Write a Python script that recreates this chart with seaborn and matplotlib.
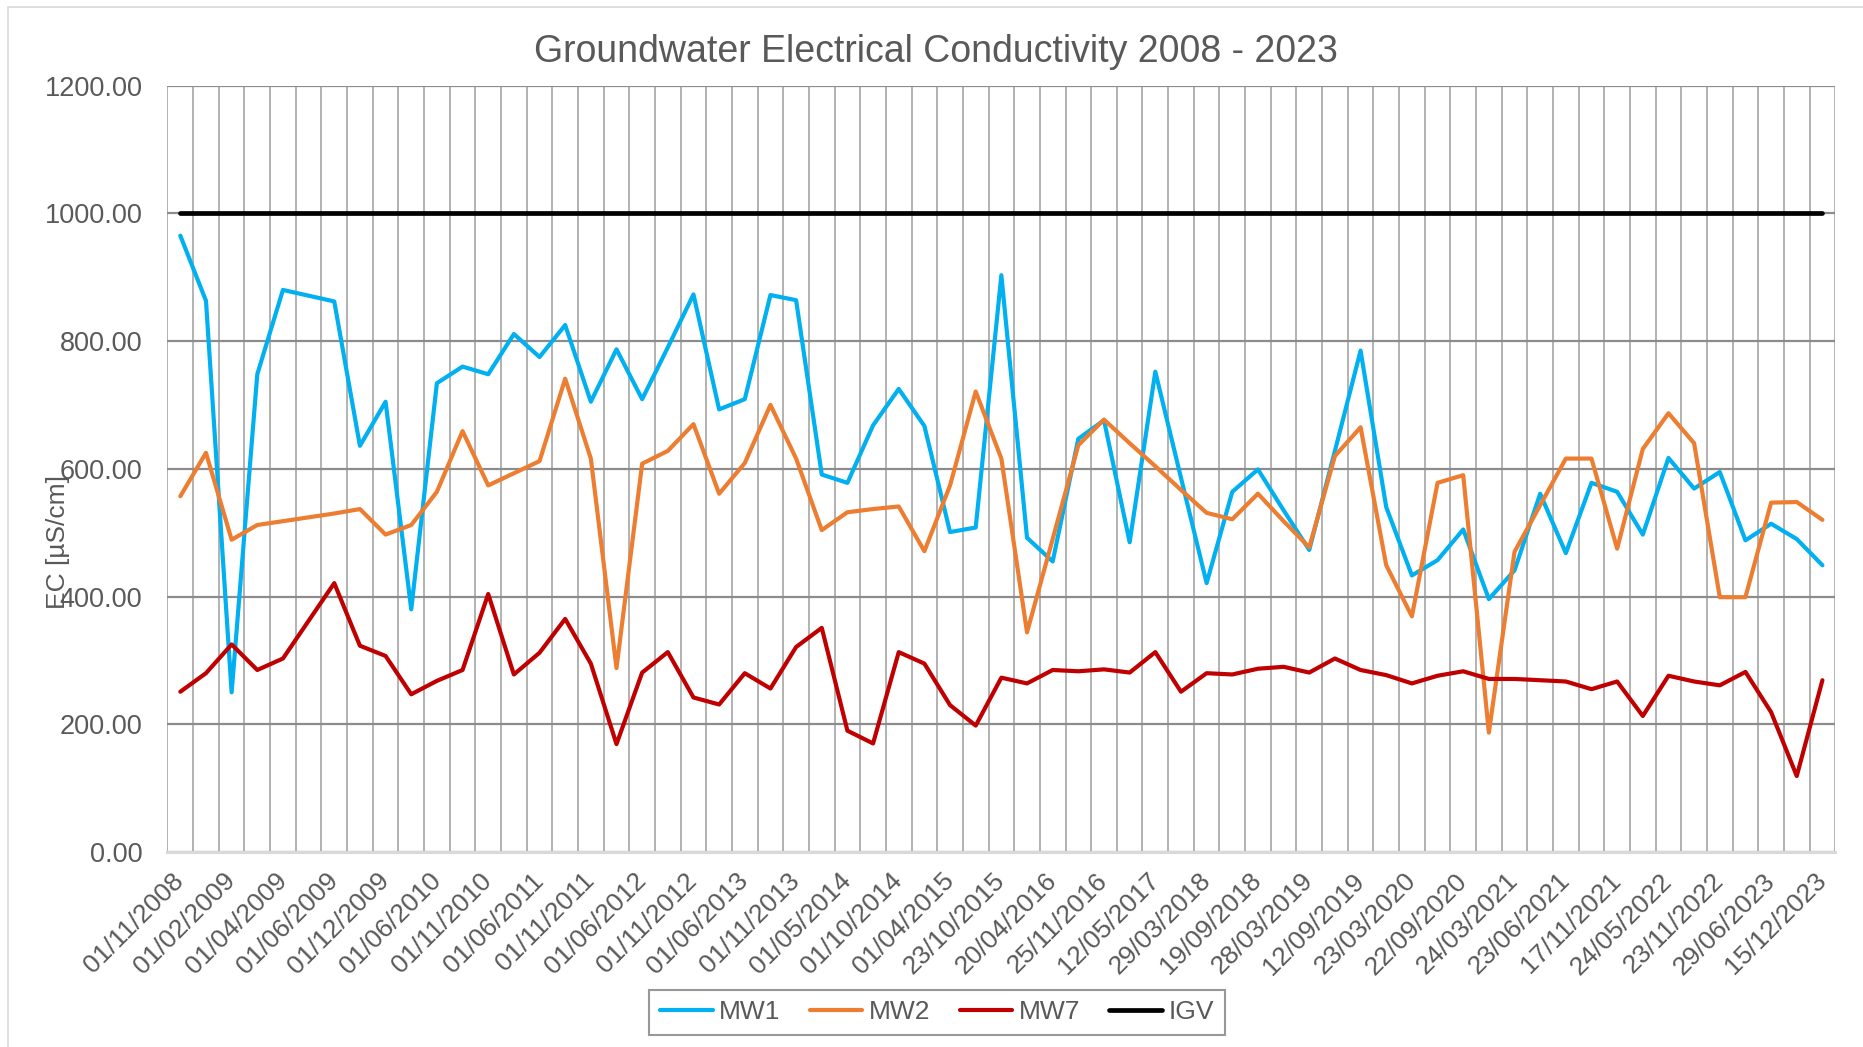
import numpy as np
import pandas as pd
import matplotlib
matplotlib.use("Agg")
import matplotlib.pyplot as plt
import seaborn as sns
from matplotlib.patches import Rectangle
from matplotlib.ticker import FixedLocator, FormatStrFormatter

# ---------------- data ----------------
tick_labels = ["01/11/2008", "01/02/2009", "01/04/2009", "01/06/2009", "01/12/2009",
               "01/06/2010", "01/11/2010", "01/06/2011", "01/11/2011", "01/06/2012",
               "01/11/2012", "01/06/2013", "01/11/2013", "01/05/2014", "01/10/2014",
               "01/04/2015", "23/10/2015", "20/04/2016", "25/11/2016", "12/05/2017",
               "29/03/2018", "19/09/2018", "28/03/2019", "12/09/2019", "23/03/2020",
               "22/09/2020", "24/03/2021", "23/06/2021", "17/11/2021", "24/05/2022",
               "23/11/2022", "29/06/2023", "15/12/2023"]

mw1 = [965, 863, 250, 748, 880, 871, 862, 636, 705, 380,
       734, 760, 748, 811, 775, 825, 705, 787, 709, 790,
       873, 693, 709, 872, 864, 591, 578, 668, 725, 667,
       501, 508, 903, 492, 455, 647, 676, 485, 752, 586,
       421, 564, 599, 535, 473, 628, 785, 540, 433, 457,
       505, 396, 441, 561, 468, 578, 564, 497, 617, 569,
       595, 488, 514, 490, 449]

mw2 = [557, 625, 489, 512, 518, 524, 530, 537, 497, 512,
       564, 659, 574, 593, 612, 741, 616, 288, 608, 628,
       670, 561, 609, 700, 616, 504, 532, 537, 541, 471,
       574, 721, 616, 344, 490, 637, 677, 640, 604, 567,
       531, 521, 561, 518, 477, 620, 665, 449, 369, 578,
       590, 187, 470, 543, 616, 616, 475, 631, 687, 640,
       399, 399, 547, 548, 520]

mw7 = [251, 280, 325, 285, 303, 362, 421, 323, 307, 247,
       268, 285, 404, 278, 312, 365, 295, 169, 281, 313,
       242, 231, 280, 256, 321, 351, 190, 170, 313, 295,
       230, 198, 273, 264, 285, 283, 286, 281, 313, 251,
       280, 278, 287, 290, 281, 303, 285, 277, 264, 276,
       283, 271, 271, 269, 267, 255, 267, 213, 276, 267,
       261, 282, 219, 119, 269]

igv_value = 1000
igv = [igv_value] * len(mw1)

series_names = ["MW1", "MW2", "MW7", "IGV"]
series_values = [mw1, mw2, mw7, igv]
series_colors = ["#00B0F0", "#ED7D31", "#C00000", "#000000"]
series_widths = [3.0, 3.0, 3.0, 3.4]

# ---------------- figure ----------------
sns.set_theme(style="white")
plt.rcParams["font.family"] = ["Liberation Sans", "DejaVu Sans"]
text_color = "#595959"

fig = plt.figure(figsize=(18.63, 10.47), dpi=100)
ax = fig.add_axes([0.0899, 0.1862, 0.9851 - 0.0899, 0.9183 - 0.1862])

n = len(mw1)
x = np.arange(n)
for name, vals, col, lw in zip(series_names, series_values, series_colors, series_widths):
    df = pd.DataFrame({"idx": x, "value": vals})
    sns.lineplot(data=df, x="idx", y="value", ax=ax, color=col, linewidth=lw,
                 label=name, sort=False, legend=False, zorder=3,
                 solid_joinstyle="round", solid_capstyle="round")

ax.set_xlim(-0.5, n - 0.5)
ax.set_ylim(0, 1200)

# y axis
ax.set_yticks(np.arange(0, 1201, 200))
ax.yaxis.set_major_formatter(FormatStrFormatter("%.2f"))
ax.tick_params(axis="y", length=0, pad=18, labelsize=19.5, labelcolor=text_color)
ax.yaxis.grid(True, color="#8c8c8c", linewidth=1.6, zorder=1)

# x axis: labels every other category, gridlines/ticks at boundaries
ax.set_xticks(np.arange(0, n, 2))
ax.set_xticklabels(tick_labels, rotation=45, ha="right", va="center",
                   rotation_mode="anchor")
ax.xaxis.set_minor_locator(FixedLocator(np.arange(-0.5, n, 1.0)))
ax.tick_params(axis="x", which="major", length=0, pad=18, labelsize=19,
               labelcolor=text_color)
ax.tick_params(axis="x", which="minor", length=7, width=1.2, color="#d9d9d9",
               direction="out")
ax.xaxis.grid(True, which="minor", color="#a6a6a6", linewidth=1.2, zorder=1)
ax.xaxis.grid(False, which="major")

for s in ["top", "left", "right"]:
    ax.spines[s].set_visible(False)
ax.spines["bottom"].set_color("#d9d9d9")
ax.spines["bottom"].set_linewidth(2.2)
ax.set_xlabel("")
ax.set_ylabel("")
ax.set_axisbelow(True)

fig.text(0.5025, 0.950, "Groundwater Electrical Conductivity 2008 - 2023",
         ha="center", va="center", fontsize=27, color=text_color)
fig.text(0.031, 0.482, "EC [µS/cm]", rotation=90, ha="center", va="center",
         fontsize=19, color=text_color)

handles, labels = ax.get_legend_handles_labels()
leg = fig.legend(handles, labels, loc="center", bbox_to_anchor=(0.503, 0.033),
                 ncol=4, fontsize=19, frameon=True, fancybox=False,
                 handlelength=2.0, handletextpad=0.25, columnspacing=1.1,
                 borderpad=0.4, borderaxespad=0, labelcolor=text_color)
leg.get_frame().set_edgecolor("#7f7f7f")
leg.get_frame().set_linewidth(1.5)

fig.patches.append(Rectangle((0.0045, -0.1), 1.2, 0.9933 + 0.1,
                             transform=fig.transFigure, fill=False,
                             edgecolor="#d9d9d9", linewidth=1.2))

fig.savefig("out.png", dpi=100, facecolor="white")
